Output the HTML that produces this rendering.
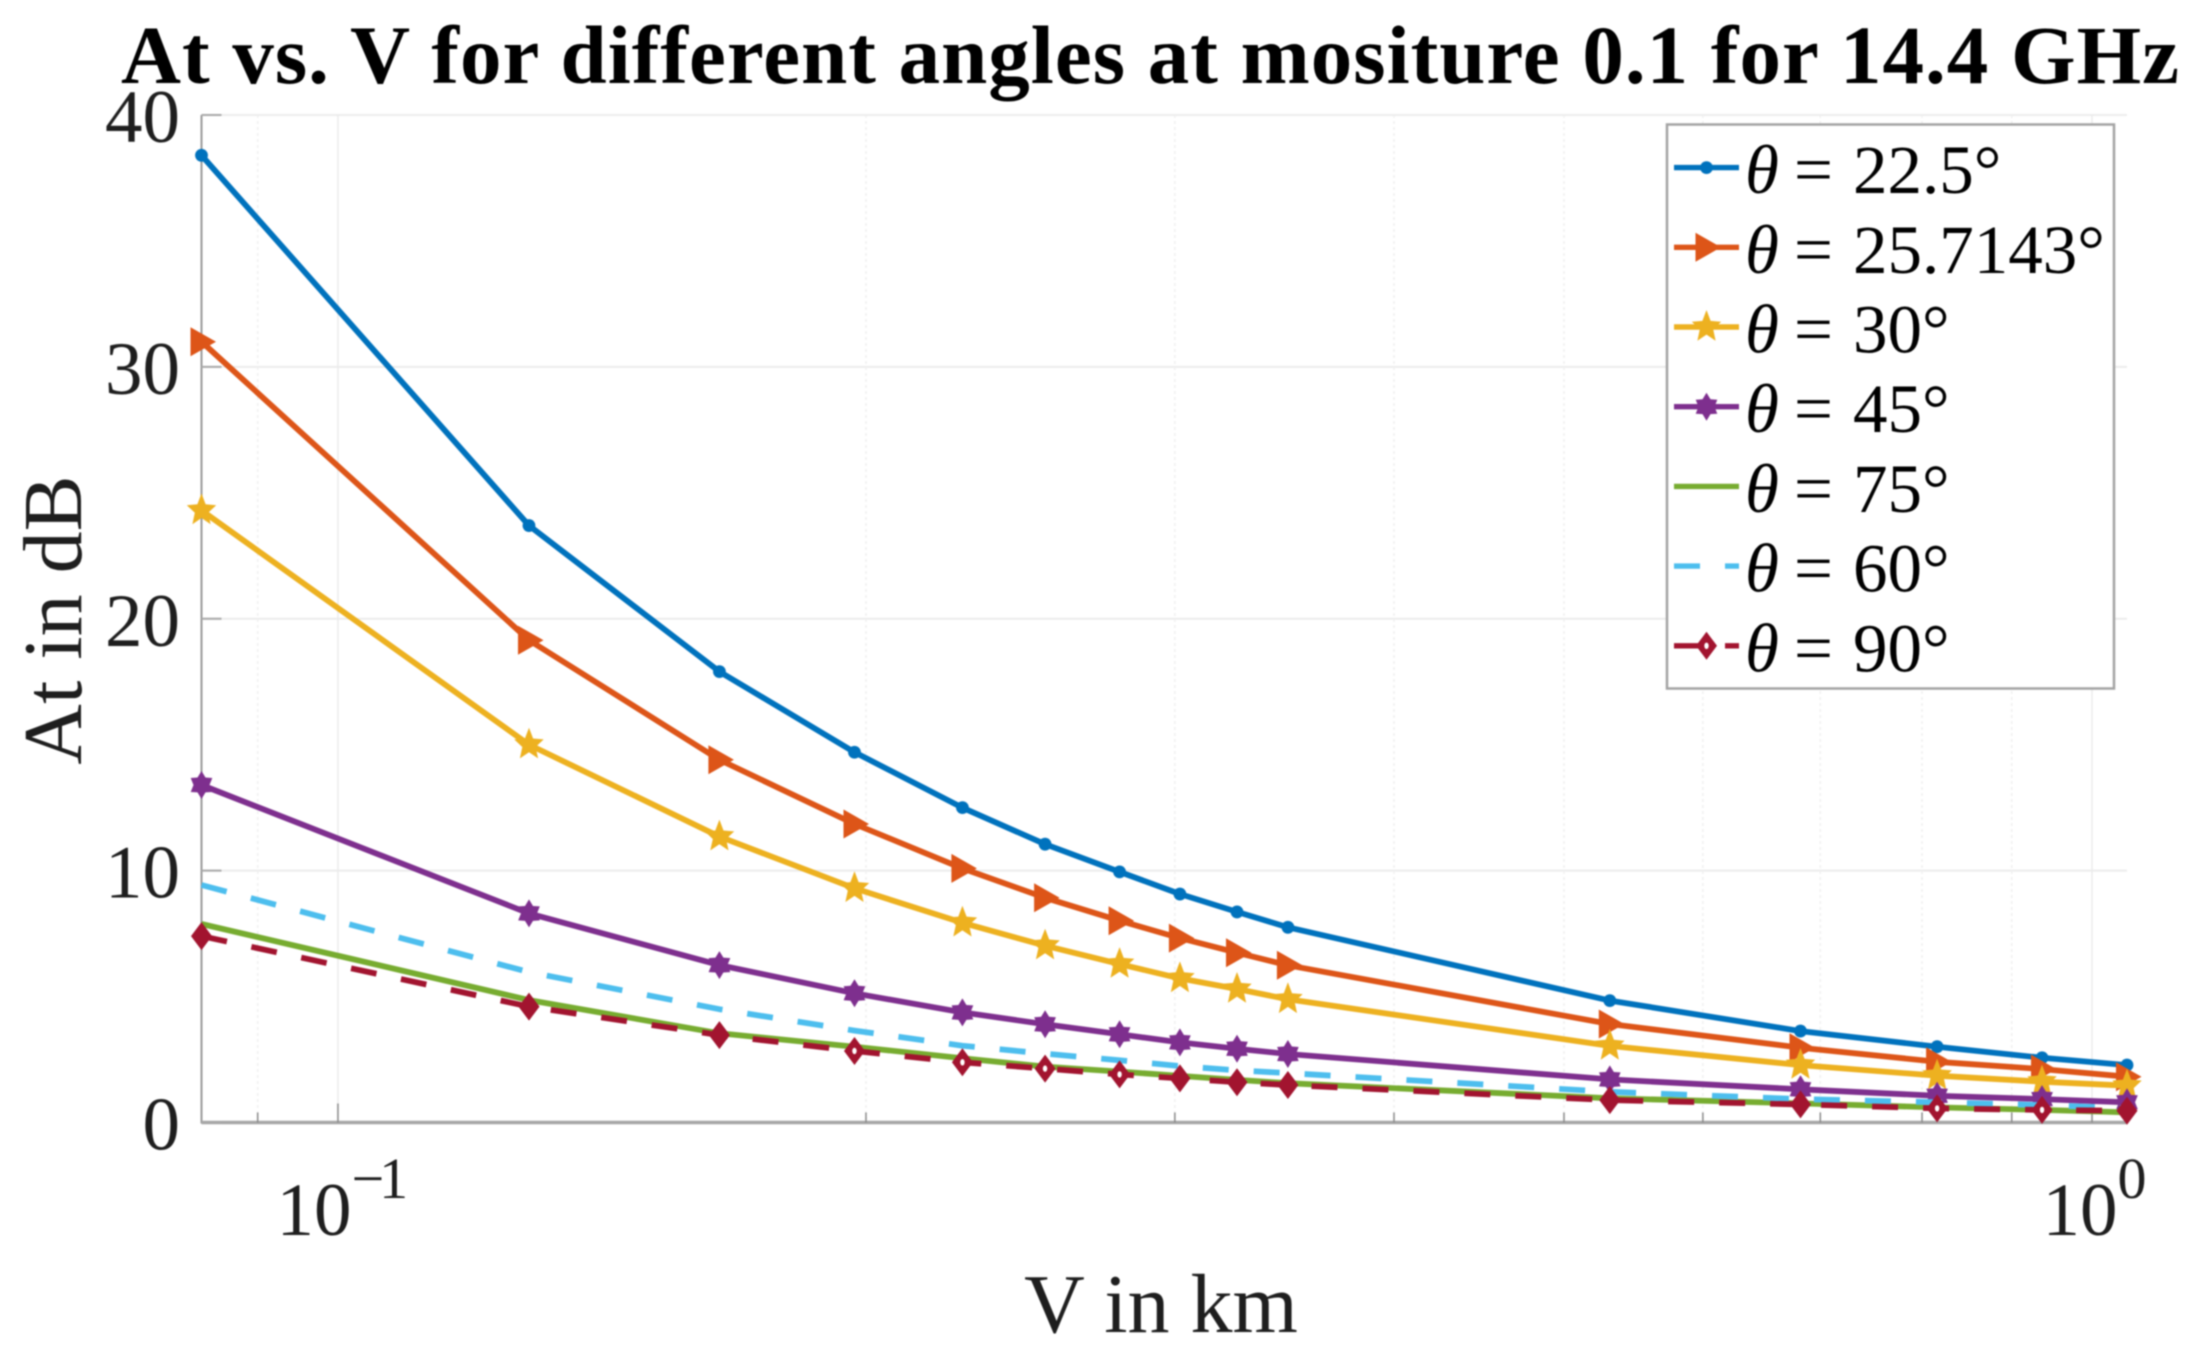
<!DOCTYPE html>
<html lang="en">
<head>
<meta charset="utf-8">
<title>At vs. V for different angles</title>
<style>
html,body{margin:0;padding:0;background:#fff;width:2190px;height:1362px;overflow:hidden}
svg{display:block;filter:blur(.8px)}
text{font-family:"Liberation Serif","DejaVu Serif",serif}
</style>
</head>
<body>
<svg id="chart" width="2190" height="1362" viewBox="0 0 2190 1362" xmlns="http://www.w3.org/2000/svg">
  <rect width="2190" height="1362" fill="#fff"/>
  <g id="grid"></g>
  <g id="axes"></g>
  <g id="series"></g>
  <g id="legend"></g>
  <text x="121" y="83" font-size="83" font-weight="bold" fill="#000" textLength="2058" lengthAdjust="spacing">At vs. V for different angles at mositure 0.1 for 14.4 GHz</text>
  <text x="1161" y="1332" font-size="84" fill="#1e1e1e" text-anchor="middle">V in km</text>
  <text transform="translate(81 620) rotate(-90)" font-size="84" fill="#1e1e1e" text-anchor="middle">At in dB</text>
</svg>
<script>
const visibility = [0.0836,0.1285,0.165,0.197,0.227,0.253,0.279,0.302,0.3255,0.348,0.531,0.682,0.816,0.9365,1.047];
const theta225 = [38.4,23.7,17.9,14.7,12.5,11.05,9.95,9.07,8.36,7.75,4.84,3.63,3.01,2.57,2.28];
const theta257 = [31.0,19.15,14.4,11.85,10.09,8.92,8.01,7.32,6.74,6.24,3.91,2.97,2.41,2.12,1.82];
const theta30 = [24.3,15.0,11.35,9.3,7.93,7.02,6.29,5.72,5.3,4.89,3.04,2.28,1.86,1.62,1.46];
const theta45 = [13.4,8.3,6.25,5.13,4.37,3.9,3.5,3.18,2.93,2.72,1.71,1.32,1.06,0.93,0.8];
const theta75 = [7.88,4.86,3.54,3.01,2.55,2.22,2.02,1.85,1.69,1.56,0.96,0.76,0.6,0.5,0.4];
const theta60 = [9.43,5.97,4.5,3.65,3.05,2.73,2.47,2.24,2.07,1.96,1.22,0.93,0.8,0.69,0.57];
const theta90 = [7.4,4.6,3.47,2.84,2.39,2.14,1.91,1.75,1.6,1.49,0.89,0.72,0.56,0.5,0.47];
const yTicks = [0,10,20,30,40];
const xMajorTicks = [0.1,1];
const xMajorExponents = ['\u22121','0'];
const xMinorTicks = [0.09,0.2,0.3,0.4,0.5,0.6,0.7,0.8,0.9];
const legendLabels = ['22.5\u00B0','25.7143\u00B0','30\u00B0','45\u00B0','75\u00B0','60\u00B0','90\u00B0'];

const NS = 'http://www.w3.org/2000/svg';
const xMin = 0.0836, xMax = 1.047, yMin = 0, yMax = 40;
const plotLeft = 201.5, plotRight = 2127, plotTop = 115, plotBottom = 1122.5;
function xScale(v){
  const a = Math.log10(xMin), b = Math.log10(xMax);
  return plotLeft + (Math.log10(v) - a) / (b - a) * (plotRight - plotLeft);
}
function yScale(v){
  return plotBottom - (v - yMin) / (yMax - yMin) * (plotBottom - plotTop);
}
function make(tag, parent, attrs, txt){
  const el = document.createElementNS(NS, tag);
  for (const k in attrs) el.setAttribute(k, attrs[k]);
  if (txt !== undefined) el.textContent = txt;
  parent.appendChild(el);
  return el;
}
function poly(pts, cx, cy){
  return pts.map(p => (cx + p[0]).toFixed(1) + ',' + (cy + p[1]).toFixed(1)).join(' ');
}
function starPts(n, rx, ry, irx, iry, rot){
  const out = [];
  for (let i = 0; i < 2 * n; i++){
    const ang = rot + i * Math.PI / n;
    const outer = i % 2 === 0;
    out.push([(outer ? rx : irx) * Math.cos(ang), (outer ? ry : iry) * Math.sin(ang)]);
  }
  return out;
}
const pentagram = starPts(5, 15.5, 17, 7, 7.6, -Math.PI / 2);
const hexagram = starPts(6, 12.5, 14, 8, 8.6, -Math.PI / 2);
const triangle = [[-11,-14.5],[14.5,0],[-11,14.5]];
const diamond = [[0,-14],[10.5,0],[0,14],[-10.5,0]];
const hollowIndexes = [3,4,5,6,12,13];

function drawMarker(parent, kind, cx, cy, color, hollow){
  let el;
  if (kind === 'dot') el = make('circle', parent, {cx: cx, cy: cy, r: 6.4, fill: color});
  if (kind === 'triangle') el = make('polygon', parent, {points: poly(triangle, cx, cy), fill: color});
  if (kind === 'pentagram') el = make('polygon', parent, {points: poly(pentagram, cx, cy), fill: color});
  if (kind === 'hexagram') el = make('polygon', parent, {points: poly(hexagram, cx, cy), fill: color});
  if (kind === 'diamond'){
    el = make('polygon', parent, {points: poly(diamond, cx, cy), fill: color});
    if (hollow){
      const hole = make('ellipse', parent, {cx: cx, cy: cy, rx: 2.2, ry: 3.2, fill: '#fff'});
      
      
    }
  }
  if (el){
    
    
  }
}

/* grid */
const grid = document.getElementById('grid');
yTicks.filter(t => t > 0).forEach(t => {
  const g = make('line', grid, {x1: plotLeft, x2: plotRight, y1: yScale(t), y2: yScale(t), stroke: '#ececec', 'stroke-width': 2});
  
  
});
xMinorTicks.forEach(t => {
  const g = make('line', grid, {x1: xScale(t), x2: xScale(t), y1: plotTop, y2: plotBottom, stroke: '#f0f0f0', 'stroke-width': 1.5, 'stroke-dasharray': '3 3'});
  
  
});
xMajorTicks.forEach(t => {
  const g = make('line', grid, {x1: xScale(t), x2: xScale(t), y1: plotTop, y2: plotBottom, stroke: '#ebebeb', 'stroke-width': 1.5});
  
  
});

/* axes */
const axes = document.getElementById('axes');
const yAxisLine = make('line', axes, {x1: plotLeft, x2: plotLeft, y1: plotTop, y2: plotBottom + 1, stroke: '#9a9a9a', 'stroke-width': 2});


const xAxisLine = make('line', axes, {x1: plotLeft, x2: plotRight, y1: plotBottom, y2: plotBottom, stroke: '#a6a6a6', 'stroke-width': 3.5});


yTicks.forEach(t => {
  const m = make('line', axes, {x1: plotLeft, x2: plotLeft + 20, y1: yScale(t), y2: yScale(t), stroke: '#a8a8a8', 'stroke-width': 2});
  
  
  const lab = make('text', axes, {x: 180, y: yScale(t) + 27, 'font-size': 75, fill: '#1e1e1e', 'text-anchor': 'end'}, String(t));
  
  
});
xMinorTicks.forEach(t => {
  const m = make('line', axes, {x1: xScale(t), x2: xScale(t), y1: plotBottom, y2: plotBottom - 10, stroke: '#8a8a8a', 'stroke-width': 1.5});
  
  
});
xMajorTicks.forEach((t, i) => {
  const m = make('line', axes, {x1: xScale(t), x2: xScale(t), y1: plotBottom, y2: plotBottom - 19, stroke: '#8a8a8a', 'stroke-width': 1.5});
  
  
  const width = 75 + xMajorExponents[i].length * 24;
  const startX = xScale(t) - width / 2;
  const lab = make('text', axes, {x: startX, y: 1235, 'font-size': 75, fill: '#1e1e1e'}, '10');
  
  
  const exp = make('text', axes, {x: startX + 75, y: 1198, 'font-size': 58, fill: '#1e1e1e', 'letter-spacing': -5}, xMajorExponents[i]);
  
  
});

/* series */
const seriesValues = [theta225, theta257, theta30, theta45, theta75, theta60, theta90];
const seriesColors = ['#0072BD','#DD5518','#EDB120','#7E2F8E','#77AC30','#4DBEEE','#A2142F'];
const seriesMarkers = ['dot','triangle','pentagram','hexagram','','','diamond'];
const seriesDashes = ['','','','','','26 25','26 25'];
const seriesNames = ['theta-22-5','theta-25-7143','theta-30','theta-45','theta-75','theta-60','theta-90'];
const seriesLayer = document.getElementById('series');
seriesValues.forEach((vals, s) => {
  const g = make('g', seriesLayer, {});
  
  
  const points = vals.map((v, i) => xScale(visibility[i]).toFixed(1) + ',' + yScale(v).toFixed(1)).join(' ');
  const line = make('polyline', g, {points: points, fill: 'none', stroke: seriesColors[s], 'stroke-width': 5.8, 'stroke-linejoin': 'round'});
  
  
  if (seriesDashes[s]) line.setAttribute('stroke-dasharray', seriesDashes[s]);
  vals.forEach((v, i) => {
    drawMarker(g, seriesMarkers[s], xScale(visibility[i]), yScale(v), seriesColors[s], hollowIndexes.indexOf(i) >= 0);
  });
});

/* legend */
const legend = document.getElementById('legend');
const legendBox = make('rect', legend, {x: 1667, y: 124.5, width: 447, height: 564, fill: '#fff', stroke: '#a3a3a3', 'stroke-width': 2.5});


legendLabels.forEach((label, i) => {
  const rowY = 167.6 + i * 79.7;
  const row = make('g', legend, {});
  
  
  const ln = make('line', row, {x1: 1674, x2: 1739, y1: rowY, y2: rowY, stroke: seriesColors[i], 'stroke-width': 5.4});
  
  
  if (seriesDashes[i]) ln.setAttribute('stroke-dasharray', seriesDashes[i]);
  drawMarker(row, seriesMarkers[i], 1706.5, rowY, seriesColors[i], i === 6);
  const t = make('text', row, {y: rowY + 25.5, 'font-size': 69, fill: '#000'});
  
  
  make('tspan', t, {x: 1745, 'font-style': 'italic'}, '\u03B8');
  make('tspan', t, {x: 1794}, '=');
  make('tspan', t, {x: 1853}, label);
});
</script>
</body>
</html>
